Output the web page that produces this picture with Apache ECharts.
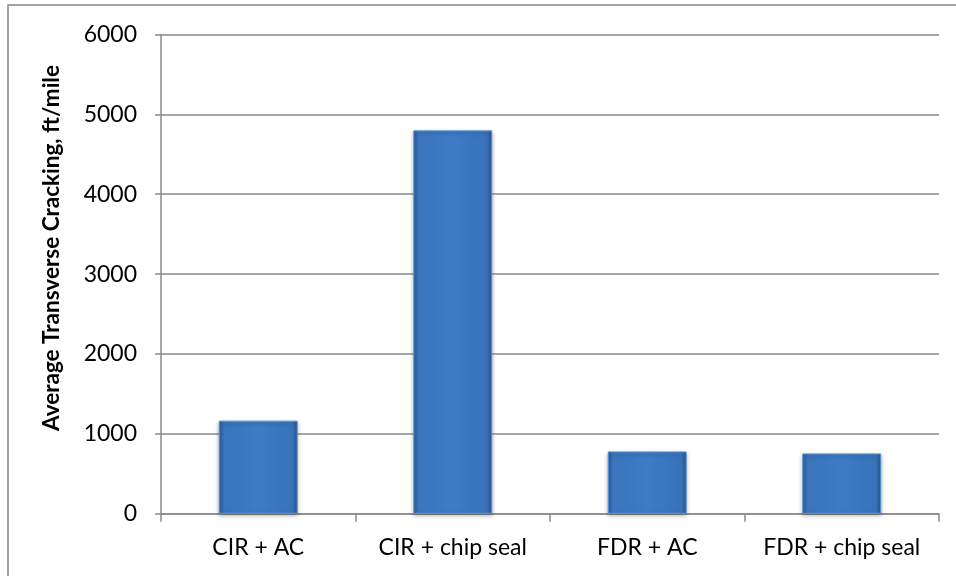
<!DOCTYPE html>
<html>
<head>
<meta charset="utf-8">
<script src="https://cdn.jsdelivr.net/npm/echarts@6/dist/echarts.min.js"></script>
<style>html,body{margin:0;padding:0;background:#fff;}#c{width:956px;height:576px;}</style>
</head>
<body>
<div id="c"></div>
<script>
const categories = ['CIR + AC', 'CIR + chip seal', 'FDR + AC', 'FDR + chip seal'];
const values = [1165, 4800, 780, 755];
const yTicks = [0, 1000, 2000, 3000, 4000, 5000, 6000];
const yTitle = 'Average Transverse Cracking, ft/mile';

const chart = echarts.init(document.getElementById('c'), null, {renderer: 'canvas'});
const font = 'Lato, "Open Sans", sans-serif';
chart.setOption({
  animation: false,
  backgroundColor: '#ffffff',
  grid: {left: 161, right: 17, top: 34.5, bottom: 62.3},
  xAxis: {
    type: 'category',
    data: categories,
    axisLine: {lineStyle: {color: '#8a8a8a', width: 1.5}},
    axisTick: {show: true, length: 8, interval: 0, lineStyle: {color: '#8a8a8a', width: 1.5}},
    axisLabel: {color: '#000', fontFamily: font, fontSize: 23, margin: 22, lineHeight: 23, interval: 0}
  },
  yAxis: {
    type: 'value',
    min: yTicks[0],
    max: yTicks[yTicks.length - 1],
    interval: 1000,
    axisLine: {show: true, lineStyle: {color: '#8a8a8a', width: 1.5}},
    axisTick: {show: true, length: 6, lineStyle: {color: '#8a8a8a', width: 1.5}},
    splitLine: {lineStyle: {color: '#8a8a8a', width: 1.5}},
    axisLabel: {color: '#000', fontFamily: font, fontSize: 23, margin: 24, formatter: v => String(v)}
  },
  series: [{
    type: 'bar',
    data: values,
    barWidth: '40.6%',
    itemStyle: {
      color: new echarts.graphic.LinearGradient(0, 0, 1, 0, [
        {offset: 0, color: '#2b5a97'},
        {offset: 0.07, color: '#3a75bd'},
        {offset: 0.5, color: '#3d7bc5'},
        {offset: 0.93, color: '#3873ba'},
        {offset: 1, color: '#2a558f'}
      ]),
      borderColor: '#5c95d8',
      borderWidth: 1,
      shadowColor: 'rgba(0,0,0,0.3)',
      shadowBlur: 4,
      shadowOffsetY: 2
    }
  }],
  graphic: [
    {type: 'rect', shape: {x: 8, y: 5, width: 960, height: 600}, style: {fill: 'none', stroke: '#868686', lineWidth: 1.5}, silent: true},
    {type: 'text', x: 52, y: 248, rotation: Math.PI / 2,
     style: {text: yTitle, fill: '#000', font: 'bold 22.5px Lato, "Open Sans", sans-serif', textAlign: 'center', textVerticalAlign: 'middle'}}
  ]
});
</script>
</body>
</html>
